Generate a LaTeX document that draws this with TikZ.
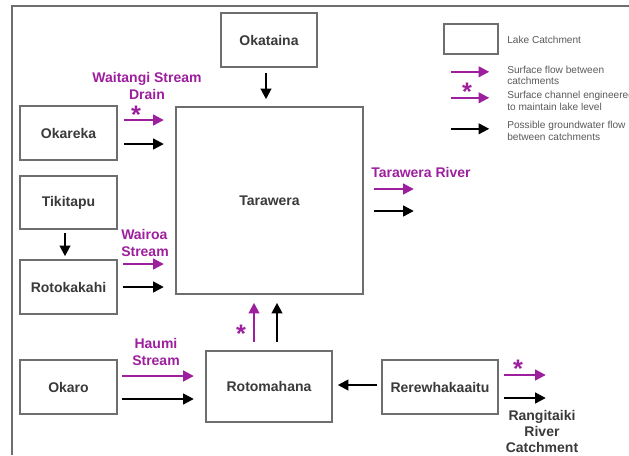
\documentclass[tikz,border=0pt]{standalone}
\usepackage{fontspec}
\setmainfont{Liberation Sans}
\usetikzlibrary{arrows.meta,positioning}
\definecolor{LakeLine}{HTML}{6E6E6E}
\definecolor{LakeText}{HTML}{3A3A3A}
\definecolor{LakePurple}{HTML}{9E1F9E}
\definecolor{LakeNote}{HTML}{5A5A5A}

\begin{document}
\begin{tikzpicture}[x=0.75pt,y=-0.75pt,
    lake/.style={draw=LakeLine,line width=1.2pt,fill=white,inner sep=0pt,
      font=\fontsize{10.5}{12.5}\selectfont\bfseries,text=LakeText},
    surf/.style={draw=LakePurple,line width=1.6pt,-{Triangle[length=8pt,width=8pt]}},
    gw/.style={draw=black,line width=1.6pt,-{Triangle[length=8pt,width=8pt]}},
    flowlabel/.style={text=LakePurple,font=\fontsize{10.5}{12.5}\selectfont\bfseries,
      inner sep=0pt,align=center},
    star/.style={text=LakePurple,font=\fontsize{19}{19}\selectfont\bfseries,
      inner sep=0pt,anchor=north},
    note/.style={text=LakeNote,font=\fontsize{7.6}{8.8}\selectfont,inner sep=0pt,
      align=left,anchor=west}]
  \path[use as bounding box,fill=white] (0,0) rectangle (629,455);
  \draw[LakeLine,line width=1.1pt] (12,455) -- (12,6) -- (629,6);

  % lake catchments
  \node[lake,minimum width=72pt,minimum height=40.5pt] (okataina) at (269,40) {Okataina};
  \node[lake,minimum width=140.25pt,minimum height=140.25pt] (tarawera) at (269.5,200.5) {Tarawera};
  \node[lake,minimum width=72.75pt,minimum height=40.5pt] (okareka) at (68.5,133) {Okareka};
  \node[lake,minimum width=72.75pt,minimum height=39.75pt] (tikitapu) at (68.5,202.5) {Tikitapu};
  \node[lake,minimum width=72.75pt,minimum height=40.5pt] (rotokakahi) at (68.5,287) {Rotokakahi};
  \node[lake,minimum width=72.75pt,minimum height=40.5pt] (okaro) at (68.5,387) {Okaro};
  \node[lake,minimum width=94.5pt,minimum height=53.25pt] (rotomahana) at (269,386.5) {Rotomahana};
  \node[lake,minimum width=87pt,minimum height=40.5pt] (rerewhakaaitu) at (440,387) {Rerewhakaaitu};

  % flows
  \draw[gw] ([shift={(-3,5)}]okataina.south) -- ([shift={(-3.5,-7)}]tarawera.north);
  \node[flowlabel] (waitangi) at (147,86) {Waitangi Stream\\Drain};
  \draw[surf] ([shift={(6,-13)}]okareka.east) -- ++(40,0);
  \node[star] (waitstar) at (136,106) {*};
  \draw[gw] ([shift={(6,11)}]okareka.east) -- ++(40,0);
  \draw[gw] ([shift={(-3.5,3)}]tikitapu.south) -- ([shift={(-3.5,-3)}]rotokakahi.north);
  \node[flowlabel,anchor=west,align=left] (wairoa) at (121,243) {Wairoa\\Stream};
  \draw[surf] ([shift={(5,-23)}]rotokakahi.east) -- ++(41,0);
  \draw[gw] ([shift={(5,0)}]rotokakahi.east) -- ++(41,0);
  \node[flowlabel] (haumi) at (156,352) {Haumi\\Stream};
  \draw[surf] ([shift={(4,-11)}]okaro.east) -- ++(72,0);
  \draw[gw] ([shift={(4,12)}]okaro.east) -- ++(72,0);
  \draw[surf] ([shift={(-15,-8)}]rotomahana.north) -- ([shift={(-15.5,8)}]tarawera.south);
  \node[star] (rotostar) at (241,325) {*};
  \draw[gw] ([shift={(8,-8)}]rotomahana.north) -- ([shift={(7.5,8)}]tarawera.south);
  \draw[gw] ([shift={(-4,-2)}]rerewhakaaitu.west) -- ([shift={(5,-1.5)}]rotomahana.east);
  \draw[surf] ([shift={(5,-12)}]rerewhakaaitu.east) -- ++(42,0);
  \node[star] (rerestar) at (518,360) {*};
  \draw[gw] ([shift={(5,11)}]rerewhakaaitu.east) -- ++(42,0);
  \node[flowlabel,text=LakeText,font=\fontsize{10.5}{12}\selectfont\bfseries] (rangitaiki)
    at (542,431) {Rangitaiki\\River\\Catchment};
  \node[flowlabel,anchor=west] (tarriver) at (371,172) {Tarawera River};
  \draw[surf] ([shift={(10,-11.5)}]tarawera.east) -- ++(40,0);
  \draw[gw] ([shift={(10,10.5)}]tarawera.east) -- ++(40,0);

  % legend
  \node[lake,minimum width=40.5pt,minimum height=22.5pt] (legbox) at (471,39) {};
  \node[note] (legbox text) at (507,40) {Lake Catchment};
  \draw[surf] ([shift={(8,17)}]legbox.south west) -- ++(38,0);
  \node[note] (legsurf text) at (507,75.5) {Surface flow between\\catchments};
  \draw[surf] ([shift={(8,43)}]legbox.south west) -- ++(38,0);
  \node[star] (legstar) at (467,83) {*};
  \node[note] (legchan text) at (507,101) {Surface channel engineered\\to maintain lake level};
  \draw[gw] ([shift={(8,74)}]legbox.south west) -- ++(38,0);
  \node[note] (leggw text) at (507,131) {Possible groundwater flow\\between catchments};
\end{tikzpicture}
\end{document}
